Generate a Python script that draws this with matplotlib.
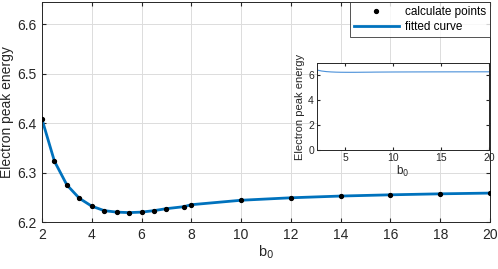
import numpy as np
import matplotlib.pyplot as plt

plt.rcParams['font.family'] = ['Liberation Sans', 'DejaVu Sans']

# calculated points
b0 = [2, 2.5, 3, 3.5, 4, 4.5, 5, 5.5, 6, 6.5, 7, 7.7, 8, 10, 12, 14, 16, 18, 20]
energy = [6.408, 6.323, 6.275, 6.248, 6.232, 6.223, 6.220, 6.219, 6.220, 6.223,
          6.227, 6.231, 6.235, 6.244, 6.249, 6.2525, 6.255, 6.257, 6.2585]

blue = '#0072BD'
axcol = '#262626'

fig = plt.figure(figsize=(4.98, 2.69), dpi=100)
ax = fig.add_axes([0.0843, 0.1747, 0.8996, 0.8178])

ax.plot(b0, energy, color=blue, lw=2, label='fitted curve', zorder=2)
ax.plot(b0, energy, 'o', color='black', ms=2.8, label='calculate points', zorder=3)

ax.set_xlim(2, 20)
ax.set_ylim(6.2, 6.645)
ax.set_xticks(np.arange(2, 21, 2))
ax.set_yticks([6.2, 6.3, 6.4, 6.5, 6.6])
ax.tick_params(direction='in', length=3, labelsize=10, colors=axcol, top=True, right=True, pad=4)
ax.grid(True, color='#dcdcdc', lw=0.7)
ax.set_axisbelow(True)
for s in ax.spines.values():
    s.set_color(axcol)
    s.set_linewidth(0.7)
ax.set_xlabel('b$_0$', fontsize=10.5, color=axcol, labelpad=1)
ax.set_ylabel('Electron peak energy', fontsize=10, color=axcol, labelpad=2)

h, l = ax.get_legend_handles_labels()
leg = ax.legend([h[1], h[0]], [l[1], l[0]], loc='upper right', fontsize=8.5,
                frameon=True, fancybox=False, borderaxespad=0, handlelength=3.8,
                borderpad=0.35, labelspacing=0.25, handletextpad=0.5)
leg.get_frame().set_edgecolor(axcol)
leg.get_frame().set_linewidth(0.7)

ins = fig.add_axes([0.636, 0.4424, 0.3466, 0.3223])
ins.plot(b0, energy, color='#4a90d9', lw=0.8)
ins.set_xlim(2, 20)
ins.set_ylim(0, 6.94)
ins.set_xticks([5, 10, 15, 20])
ins.set_yticks([0, 2, 4, 6])
ins.tick_params(direction='in', length=2.5, labelsize=7.5, colors=axcol, top=True, right=True, pad=2)
for s in ins.spines.values():
    s.set_color(axcol)
    s.set_linewidth(0.7)
ins.set_xlabel('b$_0$', fontsize=8.5, color=axcol, labelpad=1)
ins.set_ylabel('Electron peak energy', fontsize=8, color=axcol, labelpad=2)

fig.savefig('out.png', dpi=100)
